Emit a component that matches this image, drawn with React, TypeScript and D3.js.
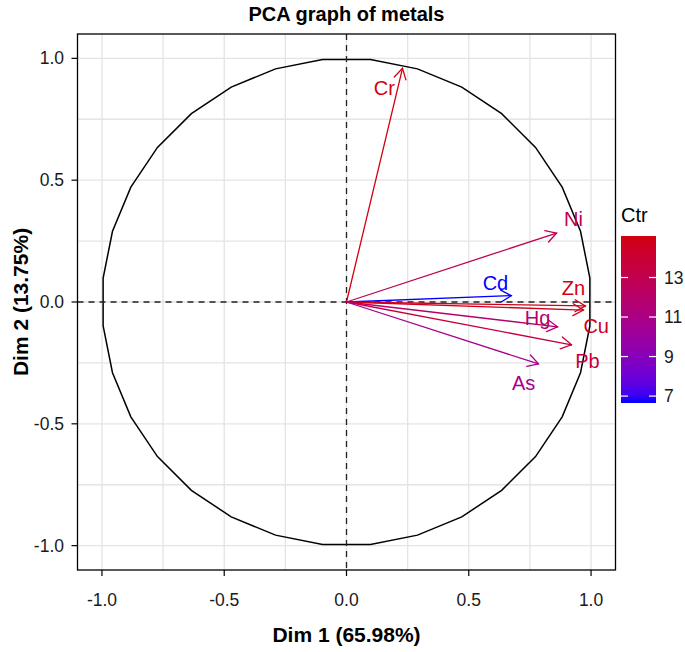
import React from 'react';
import * as d3 from 'd3';

// ---- data ----
const variables = ['Cr', 'Ni', 'Cd', 'Zn', 'Cu', 'Hg', 'Pb', 'As'];
const dim1 = [0.229, 0.859, 0.674, 0.977, 0.969, 0.863, 0.920, 0.785];
const dim2 = [0.959, 0.283, 0.026, -0.016, -0.033, -0.102, -0.176, -0.254];
const ctr = [15.1, 12.8, 6.65, 15.0, 14.7, 11.8, 13.7, 10.6];
// label anchor points (data units), as placed by the repel step
const labelDim1 = [0.155, 0.928, 0.609, 0.928, 1.021, 0.781, 0.985, 0.724];
const labelDim2 = [0.877, 0.341, 0.080, 0.057, -0.098, -0.066, -0.243, -0.332];

const majorTicks = [-1, -0.5, 0, 0.5, 1];
const minorTicks = [-0.75, -0.25, 0.25, 0.75];
const tickLabels = ['-1.0', '-0.5', '0.0', '0.5', '1.0'];
const legendTicks = [7, 9, 11, 13];

const title = 'PCA graph of metals';
const xTitle = 'Dim 1 (65.98%)';
const yTitle = 'Dim 2 (13.75%)';
const legendTitle = 'Ctr';

const W = 685;
const H = 652;
const FONT = 'Liberation Sans, Arial, Helvetica, sans-serif';

export default function App() {
  const x = d3.scaleLinear().domain([-1.1, 1.1]).range([77.5, 615.5]);
  const y = d3.scaleLinear().domain([-1.1, 1.1]).range([570, 34]);

  const [cMin, cMax] = d3.extent(ctr) as [number, number];
  const color = d3
    .scaleLinear<string>()
    .domain([cMin, cMax])
    .range(['#0000FF', '#D2000F'])
    .interpolate(d3.interpolateLab);

  // unit circle polygon
  const N = 32;
  const circlePts: [number, number][] = d3.range(N + 1).map((i) => {
    const t = Math.PI + (i + 0.5) * ((2 * Math.PI) / N);
    return [Math.cos(t), Math.sin(t)];
  });
  const circlePath = d3
    .line<[number, number]>()
    .x((d) => x(d[0]))
    .y((d) => y(d[1]))(circlePts) as string;

  const gridVals = [...majorTicks, ...minorTicks];

  // legend
  const lgX = 621;
  const lgW = 35;
  const ly = d3.scaleLinear().domain([cMin, cMax]).range([403, 236]);
  const gradStops = d3.range(0, 1.0001, 0.05);

  const headLen = 12;
  const headAng = Math.PI / 6;

  return (
    <svg
      width={W}
      height={H}
      style={{ position: 'absolute', left: 0, top: 0, background: '#fff' }}
      fontFamily={FONT}
    >
      <defs>
        <linearGradient id="ctrGrad" x1="0" y1="1" x2="0" y2="0">
          {gradStops.map((s, i) => (
            <stop key={i} offset={s} stopColor={color(cMin + s * (cMax - cMin))} />
          ))}
        </linearGradient>
      </defs>
      <rect x={0} y={0} width={W} height={H} fill="#fff" />

      {/* grid */}
      <g stroke="#E4E4E4" strokeWidth={1.3}>
        {gridVals.map((v) => (
          <line key={'gx' + v} x1={x(v)} x2={x(v)} y1={y.range()[1]} y2={y.range()[0]} />
        ))}
        {gridVals.map((v) => (
          <line key={'gy' + v} y1={y(v)} y2={y(v)} x1={x.range()[0]} x2={x.range()[1]} />
        ))}
      </g>

      {/* circle */}
      <path d={circlePath} fill="none" stroke="#000" strokeWidth={1.5} />

      {/* zero lines */}
      <g stroke="#222" strokeWidth={1.3} strokeDasharray="6,5">
        <line x1={x.range()[0]} x2={x.range()[1]} y1={y(0)} y2={y(0)} />
        <line x1={x(0)} x2={x(0)} y1={y.range()[1]} y2={y.range()[0]} />
      </g>

      {/* arrows */}
      {variables.map((v, i) => {
        const x0 = x(0);
        const y0 = y(0);
        const x1 = x(dim1[i]);
        const y1 = y(dim2[i]);
        const a = Math.atan2(y1 - y0, x1 - x0);
        const h1x = x1 - headLen * Math.cos(a - headAng);
        const h1y = y1 - headLen * Math.sin(a - headAng);
        const h2x = x1 - headLen * Math.cos(a + headAng);
        const h2y = y1 - headLen * Math.sin(a + headAng);
        const c = color(ctr[i]);
        return (
          <g key={v} stroke={c} strokeWidth={1.3} fill="none" strokeLinecap="round">
            <line x1={x0} y1={y0} x2={x1} y2={y1} />
            <polyline points={`${h1x},${h1y} ${x1},${y1} ${h2x},${h2y}`} strokeLinejoin="miter" />
          </g>
        );
      })}

      {/* labels */}
      {variables.map((v, i) => (
        <text
          key={'l' + v}
          x={x(labelDim1[i])}
          y={y(labelDim2[i])}
          dy="0.35em"
          textAnchor="middle"
          fontSize={20}
          fill={color(ctr[i])}
        >
          {v}
        </text>
      ))}

      {/* panel border */}
      <rect
        x={x.range()[0]}
        y={y.range()[1]}
        width={x.range()[1] - x.range()[0]}
        height={y.range()[0] - y.range()[1]}
        fill="none"
        stroke="#000"
        strokeWidth={1.3}
      />

      {/* x axis */}
      <g>
        {majorTicks.map((v, i) => (
          <g key={'xt' + v}>
            <line x1={x(v)} x2={x(v)} y1={570} y2={576} stroke="#000" strokeWidth={1.2} />
            <text x={x(v)} y={606} textAnchor="middle" fontSize={17.5} fill="#1a1a1a">
              {tickLabels[i]}
            </text>
          </g>
        ))}
      </g>
      {/* y axis */}
      <g>
        {majorTicks.map((v, i) => (
          <g key={'yt' + v}>
            <line x1={71.5} x2={77.5} y1={y(v)} y2={y(v)} stroke="#000" strokeWidth={1.2} />
            <text x={64} y={y(v)} dy="0.35em" textAnchor="end" fontSize={17.5} fill="#1a1a1a">
              {tickLabels[i]}
            </text>
          </g>
        ))}
      </g>

      {/* titles */}
      <text x={346.5} y={21} textAnchor="middle" fontSize={20} fontWeight="bold" fill="#000">
        {title}
      </text>
      <text x={346.5} y={642} textAnchor="middle" fontSize={21} fontWeight="bold" fill="#000">
        {xTitle}
      </text>
      <text
        transform={`translate(28, ${y(0)}) rotate(-90)`}
        textAnchor="middle"
        fontSize={21}
        fontWeight="bold"
        fill="#000"
      >
        {yTitle}
      </text>

      {/* legend */}
      <text x={621} y={222} fontSize={20} fill="#000">
        {legendTitle}
      </text>
      <rect x={lgX} y={ly(cMax)} width={lgW} height={ly(cMin) - ly(cMax)} fill="url(#ctrGrad)" />
      {legendTicks.map((t) => (
        <g key={'lt' + t}>
          <line x1={lgX} x2={lgX + 7} y1={ly(t)} y2={ly(t)} stroke="#fff" strokeWidth={1.2} />
          <line x1={lgX + lgW - 7} x2={lgX + lgW} y1={ly(t)} y2={ly(t)} stroke="#fff" strokeWidth={1.2} />
          <text x={lgX + lgW + 8} y={ly(t)} dy="0.35em" fontSize={17.5} fill="#1a1a1a">
            {t}
          </text>
        </g>
      ))}
    </svg>
  );
}
